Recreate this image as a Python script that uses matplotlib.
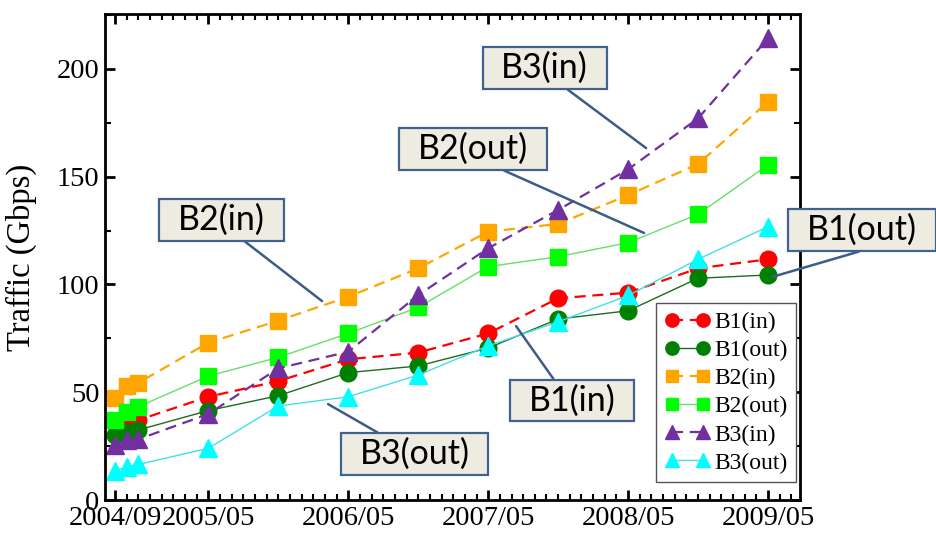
import matplotlib
matplotlib.use("Agg")
import matplotlib.pyplot as plt
from matplotlib.path import Path
from matplotlib.ticker import MultipleLocator, FixedLocator

# dados (Gbps)
datas = ["2004/09", "2004/10", "2004/11", "2005/05", "2005/11", "2006/05",
         "2006/11", "2007/05", "2007/11", "2008/05", "2008/11", "2009/05"]

b1_in = [35.5, 36.8, 37.1, 47.9, 55.2, 65.3, 68.4, 77.3, 93.6, 96.2, 107.5, 111.7]
b1_out = [30.2, 31.7, 32.5, 41.5, 48.4, 59.1, 62.2, 70.5, 84.0, 87.8, 102.9, 104.4]
b2_in = [47.5, 52.9, 54.4, 73.0, 83.2, 94.3, 107.5, 124.5, 128.1, 141.5, 155.9, 184.8]
b2_out = [37.1, 41.0, 43.3, 57.5, 66.2, 77.3, 89.4, 108.3, 112.9, 119.4, 132.6, 155.5]
b3_in = [25.5, 27.8, 28.2, 39.9, 61.1, 68.8, 95.1, 116.8, 134.6, 153.4, 177.1, 214.2]
b3_out = [13.6, 15.5, 16.5, 24.0, 43.6, 47.9, 58.0, 71.5, 82.7, 94.9, 111.7, 126.8]

rotulos_x = ["2004/09", "2005/05", "2006/05", "2007/05", "2008/05", "2009/05"]


def mes(s):
    # converte "aaaa/mm" em indice de meses desde 2004/01
    a, m = s.split("/")
    return (int(a) - 2004) * 12 + int(m) - 1


def caixa(x0, y0, width, height, mutation_size):
    # retangulo com mais folga na horizontal do que na vertical
    px = 0.55 * mutation_size
    py = 0.14 * mutation_size
    x1, y1 = x0 - px, y0 - py
    x2, y2 = x0 + width + px, y0 + height + py
    return Path([(x1, y1), (x2, y1), (x2, y2), (x1, y2), (x1, y1)], closed=True)


x = [mes(d) for d in datas]

serif = "Liberation Serif"
fig = plt.figure(figsize=(9.36, 5.33), dpi=100)
ax = fig.add_axes([0.1122, 0.0619, 0.7425, 0.9118])

tracejado = (0, (5, 3))
ax.plot(x, b1_in, color="#FF0000", ls=tracejado, lw=1.6, marker="o", ms=12,
        mec="#FF0000", label="B1(in)")
ax.plot(x, b1_out, color="#1F6B1F", ls="-", lw=1.0, marker="o", ms=12,
        mfc="#008000", mec="#008000", label="B1(out)")
ax.plot(x, b2_in, color="#FFA500", ls=tracejado, lw=1.6, marker="s", ms=11.5,
        mec="#FFA500", label="B2(in)")
ax.plot(x, b2_out, color="#66E066", ls="-", lw=1.0, marker="s", ms=11.5,
        mfc="#00FF00", mec="#00FF00", label="B2(out)")
ax.plot(x, b3_in, color="#7030A0", ls=tracejado, lw=1.6, marker="^", ms=13,
        mec="#7030A0", label="B3(in)")
ax.plot(x, b3_out, color="#40E0E8", ls="-", lw=1.0, marker="^", ms=13,
        mfc="#00FFFF", mec="#00FFFF", label="B3(out)")

ax.set_xlim(7.14, 66.74)
ax.set_ylim(0, 225.5)

ax.xaxis.set_major_locator(FixedLocator([mes(r) for r in rotulos_x]))
ax.set_xticklabels(rotulos_x)
ax.xaxis.set_minor_locator(MultipleLocator(1))
ax.yaxis.set_major_locator(MultipleLocator(50))
ax.yaxis.set_minor_locator(MultipleLocator(25))

ax.tick_params(which="both", direction="in", top=True, right=True)
ax.tick_params(which="major", length=7, width=2, labelsize=20.5, pad=4)
ax.tick_params(which="minor", length=4, width=1.5)
for t in ax.get_xticklabels() + ax.get_yticklabels():
    t.set_fontfamily(serif)
for s in ax.spines.values():
    s.set_linewidth(2)

ax.set_ylabel("Traffic (Gbps)", fontsize=23.5, family=serif)
ax.yaxis.set_label_coords(-0.098, 0.5)

leg = ax.legend(loc="lower right", bbox_to_anchor=(0.9942, 0.037),
                borderaxespad=0, numpoints=2, markerscale=0.8,
                prop={"family": serif, "size": 17}, handlelength=1.9,
                handletextpad=0.2, labelspacing=0.28, borderpad=0.35,
                fancybox=False, framealpha=1, edgecolor="#555555")
leg.get_frame().set_linewidth(1)

# caixas de texto com as linhas de ligacao
caixas = [
    ("B3(in)", (44.84, 200.5), (53.54, 163.3), (0.68, 0)),
    ("B2(out)", (38.70, 162.9), (53.37, 123.9), (0.67, 0)),
    ("B2(in)", (17.13, 129.9), (25.75, 92.3), (0.69, 0)),
    ("B1(in)", (47.19, 46.2), (42.39, 80.7), (0.33, 1)),
    ("B3(out)", (33.69, 21.3), (26.27, 44.5), (0.25, 1)),
    ("B1(out)", (72.07, 125.3), (64.35, 103.5), (0.64, 0)),
]
for nome, pos_caixa, ponta, rel in caixas:
    ax.annotate(nome, xy=ponta, xytext=pos_caixa, fontsize=24.5, family="Lato",
                ha="center", va="center", annotation_clip=False, zorder=10,
                bbox=dict(boxstyle=caixa, fc="#EEECE1", ec="#41628E", lw=1.6),
                arrowprops=dict(arrowstyle="-", color="#3E5C86", lw=1.8,
                                shrinkA=0, shrinkB=0, relpos=rel))

fig.savefig("out.png", dpi=100)
